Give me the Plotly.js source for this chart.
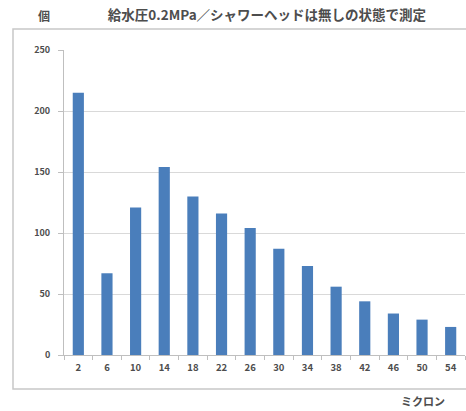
<!DOCTYPE html>
<html>
<head>
<meta charset="utf-8">
<script src="https://cdn.plot.ly/plotly-3.0.1.min.js"></script>
<style>html,body{margin:0;padding:0;background:#fff;}#chart{width:466px;height:411px;}</style>
</head>
<body>
<div id="chart"></div>
<script>
const categories = ["2","6","10","14","18","22","26","30","34","38","42","46","50","54"];
const counts = [215, 67, 121, 154, 130, 116, 104, 87, 73, 56, 44, 34, 29, 23];
const yTicks = [0, 50, 100, 150, 200, 250];
const titleText = "給水圧0.2MPa／シャワーヘッドは無しの状態で測定";
const yUnit = "個";
const xUnit = "ミクロン";

const font = "Noto Sans CJK JP, Noto Sans, sans-serif";
const L = 64, R = 465, T = 50, B = 355;
const data = [{
  type: "bar",
  x: categories,
  y: counts,
  marker: {color: "#4a7ebb"},
  hoverinfo: "x+y"
}];
const layout = {
  width: 466, height: 411,
  margin: {l: L, r: 466 - R, t: T, b: 411 - B},
  paper_bgcolor: "#fff", plot_bgcolor: "#fff",
  bargap: 0.61,
  showlegend: false,
  font: {family: font, size: 9, color: "#4d4d4d"},
  title: {text: titleText, x: 267/466, xanchor: "center", xref: "container",
          y: 1 - 15/411, yanchor: "middle", yref: "container",
          font: {family: font, size: 13.5, weight: 700, color: "#4d4d4d"}},
  xaxis: {type: "category", tickson: "boundaries", ticks: "outside", ticklen: 4,
          tickcolor: "#bfbfbf", showline: true, linecolor: "#bfbfbf", linewidth: 1,
          showgrid: false, ticklabelstandoff: 4,
          tickfont: {size: 9.5, weight: 700, color: "#4d4d4d"}, fixedrange: true},
  yaxis: {range: [0, 250], tickvals: yTicks, ticks: "outside", ticklen: 5,
          tickcolor: "#bfbfbf", showline: true, linecolor: "#bfbfbf", linewidth: 1,
          showgrid: true, gridcolor: "#d9d9d9", zeroline: false, ticklabelstandoff: 6,
          tickfont: {size: 9, weight: 700, color: "#4d4d4d"}, fixedrange: true},
  shapes: [{type: "rect", xref: "paper", yref: "paper",
            x0: (13-L)/(R-L), x1: 1.02, y0: (B-389)/(B-T), y1: (B-29)/(B-T),
            line: {color: "#c8c8c8", width: 1.5}, fillcolor: "rgba(0,0,0,0)"}],
  annotations: [
    {text: yUnit, xref: "paper", yref: "paper", x: (44-L)/(R-L), y: (B-15)/(B-T),
     showarrow: false, xanchor: "center", yanchor: "middle",
     font: {family: font, size: 12, weight: 700, color: "#4d4d4d"}},
    {text: xUnit, xref: "paper", yref: "paper", x: (423-L)/(R-L), y: (B-401)/(B-T),
     showarrow: false, xanchor: "center", yanchor: "middle",
     font: {family: font, size: 11, weight: 700, color: "#4d4d4d"}}
  ]
};
Plotly.newPlot("chart", data, layout, {displayModeBar: false, staticPlot: true});
</script>
</body>
</html>
